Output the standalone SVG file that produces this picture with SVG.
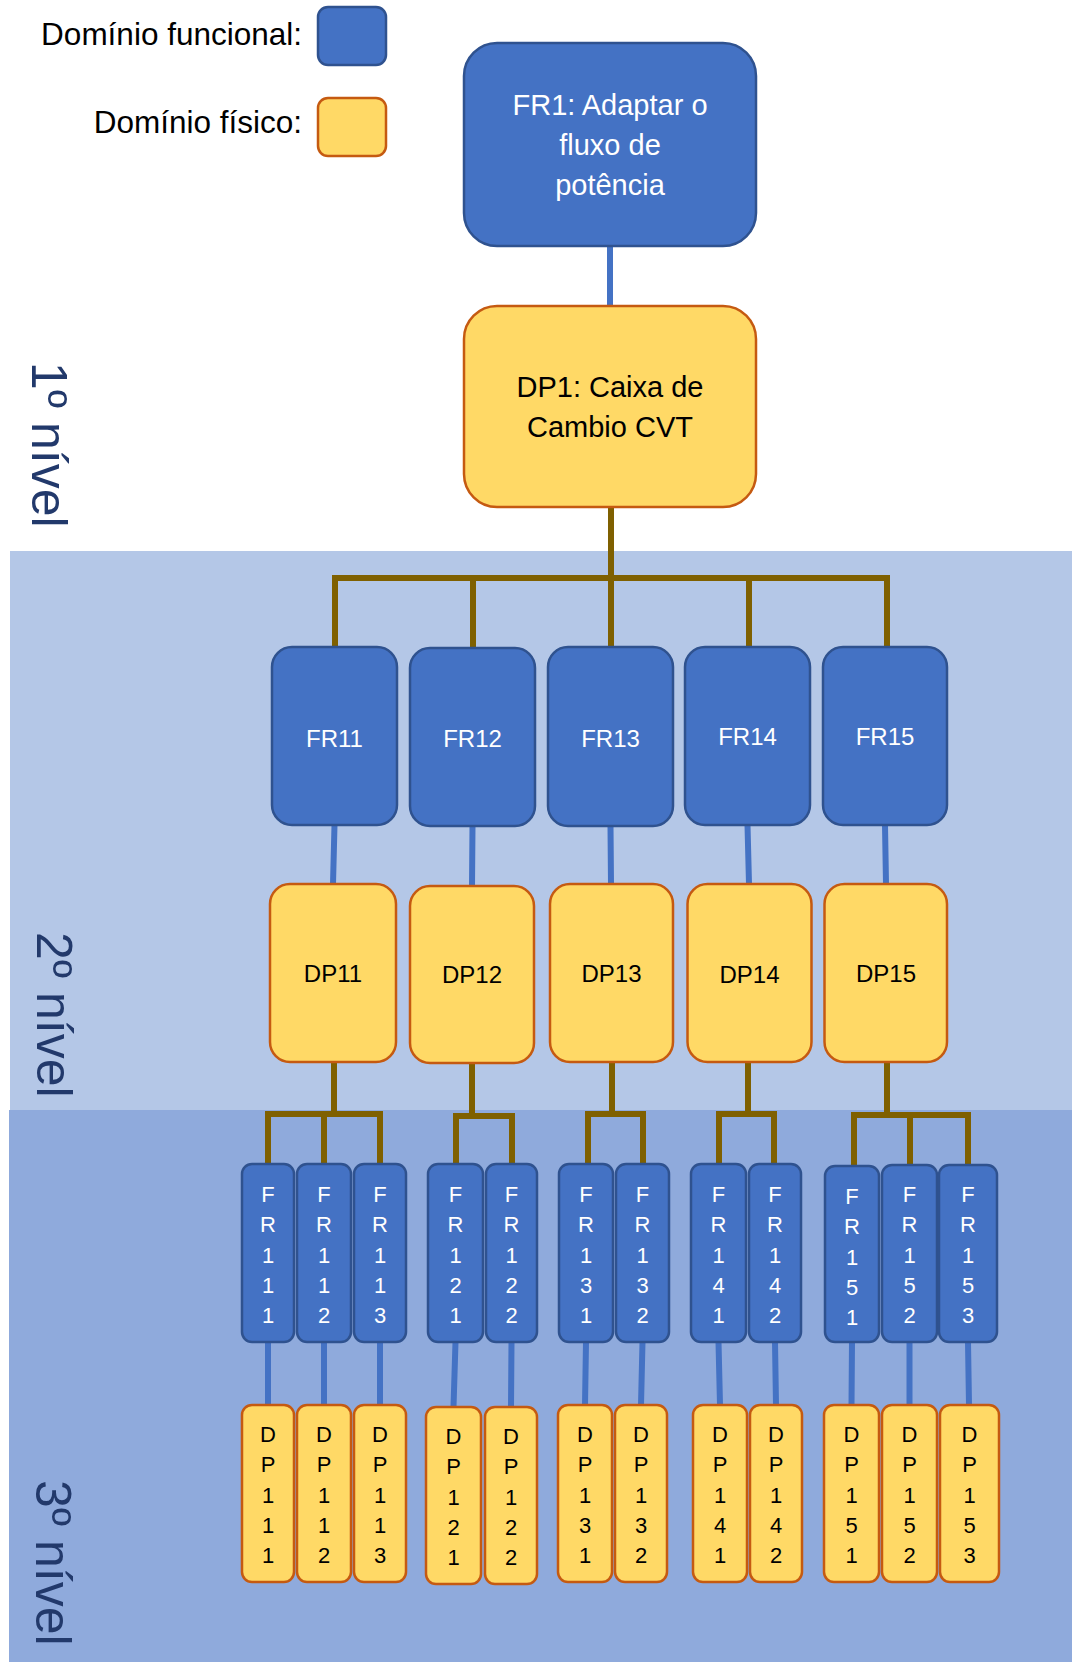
<svg xmlns="http://www.w3.org/2000/svg" width="1072" height="1662" viewBox="0 0 1072 1662">
<style>
.fr{fill:#4472C4;stroke:#2F528F;stroke-width:2.5}
.dp{fill:#FFD966;stroke:#C55A11;stroke-width:2.5}
.t{font-family:"Liberation Sans",Arial,sans-serif;text-anchor:middle}
.w{fill:#FFFFFF}
.k{fill:#000000}
.big{font-size:29px}
.mid{font-size:24px}
.sm{font-size:22px}
.lg{font-family:"Liberation Sans",Arial,sans-serif;font-size:31.5px;fill:#000;text-anchor:end}
.lvl{font-family:"Liberation Sans",Arial,sans-serif;font-size:50px;fill:#22396B}
.br{stroke:#7F6000;stroke-width:6;fill:none;stroke-linejoin:miter}
.bl{stroke:#4472C4;stroke-width:6;fill:none}
</style>
<rect x="0" y="0" width="1072" height="1662" fill="#FFFFFF"/>
<g id="bands">
<rect x="10" y="551" width="1062" height="560" fill="#B4C7E7"/>
<rect x="9" y="1110" width="1063" height="552" fill="#8FAADC"/>
</g>
<g id="levels">
<text class="lvl" transform="translate(32,362) rotate(90)">1º nível</text>
<text class="lvl" transform="translate(37,932) rotate(90)">2º nível</text>
<text class="lvl" transform="translate(36,1480) rotate(90)">3º nível</text>
</g>
<g id="legend">
<text class="lg" x="302" y="45">Domínio funcional:</text>
<rect class="fr" x="318" y="7" width="68" height="58" rx="10"/>
<text class="lg" x="302" y="133">Domínio físico:</text>
<rect class="dp" x="318" y="98" width="68" height="58" rx="10"/>
</g>
<g id="connectors">
<path class="bl" d="M610,246 V306"/>
<path class="br" d="M611,507 V578"/>
<path class="br" d="M335,648 V578 H887 V648"/>
<path class="br" d="M473,578 V648 M611,578 V648 M749,578 V648"/>
<path class="bl" d="M334.5,825 L333,884 M472.5,826 L472,886 M610.5,826 L611,884 M747.5,825 L749,884 M885,825 L886,884"/>
<path class="br" d="M334,1062 V1114 M268,1165 V1114 H380 V1165 M324,1114 V1165"/>
<path class="br" d="M472,1063 V1116 M456,1165 V1116 H512 V1165"/>
<path class="br" d="M612,1062 V1114 M588,1165 V1114 H643 V1165"/>
<path class="br" d="M748,1062 V1114 M719,1165 V1114 H774 V1165"/>
<path class="br" d="M887,1062 V1115 M854,1166 V1115 H968 V1165 M910,1115 V1165"/>
<path class="bl" d="M268,1342 V1405 M324,1342 V1405 M380,1342 V1405 M455.5,1342 L453.5,1407 M511.5,1342 L511,1407 M586,1342 L585,1405 M642.5,1342 L641,1405 M718.5,1342 L720,1405 M775,1342 L776,1405 M852,1342 L851.5,1405 M909.5,1342 V1405 M968,1342 L969,1405"/>
</g>
<g id="FR1">
<rect class="fr" x="464" y="43" width="292" height="203" rx="33"/>
<text class="t w big" x="610" y="115">FR1: Adaptar o</text>
<text class="t w big" x="610" y="155">fluxo de</text>
<text class="t w big" x="610" y="195">potência</text>
</g>
<g id="DP1">
<rect class="dp" x="464" y="306" width="292" height="201" rx="33"/>
<text class="t k big" x="610" y="397">DP1: Caixa de</text>
<text class="t k big" x="610" y="437">Cambio CVT</text>
</g>
<g id="FR11"><rect class="fr" x="272" y="647" width="125" height="178" rx="20"/><text class="t w mid" x="334.5" y="747">FR11</text></g>
<g id="FR12"><rect class="fr" x="410" y="648" width="125" height="178" rx="20"/><text class="t w mid" x="472.5" y="747">FR12</text></g>
<g id="FR13"><rect class="fr" x="548" y="647" width="125" height="179" rx="20"/><text class="t w mid" x="610.5" y="747">FR13</text></g>
<g id="FR14"><rect class="fr" x="685" y="647" width="125" height="178" rx="20"/><text class="t w mid" x="747.5" y="745">FR14</text></g>
<g id="FR15"><rect class="fr" x="823" y="647" width="124" height="178" rx="20"/><text class="t w mid" x="885" y="745">FR15</text></g>
<g id="DP11"><rect class="dp" x="270" y="884" width="126" height="178" rx="20"/><text class="t k mid" x="333" y="982">DP11</text></g>
<g id="DP12"><rect class="dp" x="410" y="886" width="124" height="177" rx="20"/><text class="t k mid" x="472" y="983">DP12</text></g>
<g id="DP13"><rect class="dp" x="550" y="884" width="123" height="178" rx="20"/><text class="t k mid" x="611.5" y="982">DP13</text></g>
<g id="DP14"><rect class="dp" x="687.5" y="884" width="124" height="178" rx="20"/><text class="t k mid" x="749.5" y="983">DP14</text></g>
<g id="DP15"><rect class="dp" x="824.5" y="884" width="122.5" height="178" rx="20"/><text class="t k mid" x="886" y="982">DP15</text></g>
<g id="FR111"><rect class="fr" x="242" y="1164" width="52" height="178" rx="10"/><text class="t w sm" x="268" y="1202"><tspan x="268">F</tspan><tspan x="268" dy="30.3">R</tspan><tspan x="268" dy="30.3">1</tspan><tspan x="268" dy="30.3">1</tspan><tspan x="268" dy="30.3">1</tspan></text></g>
<g id="FR112"><rect class="fr" x="297" y="1164" width="54" height="178" rx="10"/><text class="t w sm" x="324" y="1202"><tspan x="324">F</tspan><tspan x="324" dy="30.3">R</tspan><tspan x="324" dy="30.3">1</tspan><tspan x="324" dy="30.3">1</tspan><tspan x="324" dy="30.3">2</tspan></text></g>
<g id="FR113"><rect class="fr" x="354" y="1164" width="52" height="178" rx="10"/><text class="t w sm" x="380" y="1202"><tspan x="380">F</tspan><tspan x="380" dy="30.3">R</tspan><tspan x="380" dy="30.3">1</tspan><tspan x="380" dy="30.3">1</tspan><tspan x="380" dy="30.3">3</tspan></text></g>
<g id="FR121"><rect class="fr" x="428" y="1164" width="55" height="178" rx="10"/><text class="t w sm" x="455.5" y="1202"><tspan x="455.5">F</tspan><tspan x="455.5" dy="30.3">R</tspan><tspan x="455.5" dy="30.3">1</tspan><tspan x="455.5" dy="30.3">2</tspan><tspan x="455.5" dy="30.3">1</tspan></text></g>
<g id="FR122"><rect class="fr" x="486" y="1164" width="51" height="178" rx="10"/><text class="t w sm" x="511.5" y="1202"><tspan x="511.5">F</tspan><tspan x="511.5" dy="30.3">R</tspan><tspan x="511.5" dy="30.3">1</tspan><tspan x="511.5" dy="30.3">2</tspan><tspan x="511.5" dy="30.3">2</tspan></text></g>
<g id="FR131"><rect class="fr" x="559" y="1164" width="54" height="178" rx="10"/><text class="t w sm" x="586" y="1202"><tspan x="586">F</tspan><tspan x="586" dy="30.3">R</tspan><tspan x="586" dy="30.3">1</tspan><tspan x="586" dy="30.3">3</tspan><tspan x="586" dy="30.3">1</tspan></text></g>
<g id="FR132"><rect class="fr" x="616" y="1164" width="53" height="178" rx="10"/><text class="t w sm" x="642.5" y="1202"><tspan x="642.5">F</tspan><tspan x="642.5" dy="30.3">R</tspan><tspan x="642.5" dy="30.3">1</tspan><tspan x="642.5" dy="30.3">3</tspan><tspan x="642.5" dy="30.3">2</tspan></text></g>
<g id="FR141"><rect class="fr" x="691" y="1164" width="55" height="178" rx="10"/><text class="t w sm" x="718.5" y="1202"><tspan x="718.5">F</tspan><tspan x="718.5" dy="30.3">R</tspan><tspan x="718.5" dy="30.3">1</tspan><tspan x="718.5" dy="30.3">4</tspan><tspan x="718.5" dy="30.3">1</tspan></text></g>
<g id="FR142"><rect class="fr" x="749" y="1164" width="52" height="178" rx="10"/><text class="t w sm" x="775" y="1202"><tspan x="775">F</tspan><tspan x="775" dy="30.3">R</tspan><tspan x="775" dy="30.3">1</tspan><tspan x="775" dy="30.3">4</tspan><tspan x="775" dy="30.3">2</tspan></text></g>
<g id="FR151"><rect class="fr" x="825" y="1166" width="54" height="176" rx="10"/><text class="t w sm" x="852" y="1204"><tspan x="852">F</tspan><tspan x="852" dy="30.3">R</tspan><tspan x="852" dy="30.3">1</tspan><tspan x="852" dy="30.3">5</tspan><tspan x="852" dy="30.3">1</tspan></text></g>
<g id="FR152"><rect class="fr" x="882" y="1165" width="55" height="177" rx="10"/><text class="t w sm" x="909.5" y="1202"><tspan x="909.5">F</tspan><tspan x="909.5" dy="30.3">R</tspan><tspan x="909.5" dy="30.3">1</tspan><tspan x="909.5" dy="30.3">5</tspan><tspan x="909.5" dy="30.3">2</tspan></text></g>
<g id="FR153"><rect class="fr" x="939" y="1165" width="58" height="177" rx="10"/><text class="t w sm" x="968" y="1202"><tspan x="968">F</tspan><tspan x="968" dy="30.3">R</tspan><tspan x="968" dy="30.3">1</tspan><tspan x="968" dy="30.3">5</tspan><tspan x="968" dy="30.3">3</tspan></text></g>
<g id="DP111"><rect class="dp" x="242" y="1405" width="52" height="177" rx="10"/><text class="t k sm" x="268" y="1442"><tspan x="268">D</tspan><tspan x="268" dy="30.3">P</tspan><tspan x="268" dy="30.3">1</tspan><tspan x="268" dy="30.3">1</tspan><tspan x="268" dy="30.3">1</tspan></text></g>
<g id="DP112"><rect class="dp" x="297" y="1405" width="54" height="177" rx="10"/><text class="t k sm" x="324" y="1442"><tspan x="324">D</tspan><tspan x="324" dy="30.3">P</tspan><tspan x="324" dy="30.3">1</tspan><tspan x="324" dy="30.3">1</tspan><tspan x="324" dy="30.3">2</tspan></text></g>
<g id="DP113"><rect class="dp" x="354" y="1405" width="52" height="177" rx="10"/><text class="t k sm" x="380" y="1442"><tspan x="380">D</tspan><tspan x="380" dy="30.3">P</tspan><tspan x="380" dy="30.3">1</tspan><tspan x="380" dy="30.3">1</tspan><tspan x="380" dy="30.3">3</tspan></text></g>
<g id="DP121"><rect class="dp" x="426" y="1407" width="55" height="177" rx="10"/><text class="t k sm" x="453.5" y="1444"><tspan x="453.5">D</tspan><tspan x="453.5" dy="30.3">P</tspan><tspan x="453.5" dy="30.3">1</tspan><tspan x="453.5" dy="30.3">2</tspan><tspan x="453.5" dy="30.3">1</tspan></text></g>
<g id="DP122"><rect class="dp" x="485" y="1407" width="52" height="177" rx="10"/><text class="t k sm" x="511" y="1444"><tspan x="511">D</tspan><tspan x="511" dy="30.3">P</tspan><tspan x="511" dy="30.3">1</tspan><tspan x="511" dy="30.3">2</tspan><tspan x="511" dy="30.3">2</tspan></text></g>
<g id="DP131"><rect class="dp" x="558" y="1405" width="54" height="177" rx="10"/><text class="t k sm" x="585" y="1442"><tspan x="585">D</tspan><tspan x="585" dy="30.3">P</tspan><tspan x="585" dy="30.3">1</tspan><tspan x="585" dy="30.3">3</tspan><tspan x="585" dy="30.3">1</tspan></text></g>
<g id="DP132"><rect class="dp" x="615" y="1405" width="52" height="177" rx="10"/><text class="t k sm" x="641" y="1442"><tspan x="641">D</tspan><tspan x="641" dy="30.3">P</tspan><tspan x="641" dy="30.3">1</tspan><tspan x="641" dy="30.3">3</tspan><tspan x="641" dy="30.3">2</tspan></text></g>
<g id="DP141"><rect class="dp" x="693" y="1405" width="54" height="177" rx="10"/><text class="t k sm" x="720" y="1442"><tspan x="720">D</tspan><tspan x="720" dy="30.3">P</tspan><tspan x="720" dy="30.3">1</tspan><tspan x="720" dy="30.3">4</tspan><tspan x="720" dy="30.3">1</tspan></text></g>
<g id="DP142"><rect class="dp" x="750" y="1405" width="52" height="177" rx="10"/><text class="t k sm" x="776" y="1442"><tspan x="776">D</tspan><tspan x="776" dy="30.3">P</tspan><tspan x="776" dy="30.3">1</tspan><tspan x="776" dy="30.3">4</tspan><tspan x="776" dy="30.3">2</tspan></text></g>
<g id="DP151"><rect class="dp" x="824" y="1405" width="55" height="177" rx="10"/><text class="t k sm" x="851.5" y="1442"><tspan x="851.5">D</tspan><tspan x="851.5" dy="30.3">P</tspan><tspan x="851.5" dy="30.3">1</tspan><tspan x="851.5" dy="30.3">5</tspan><tspan x="851.5" dy="30.3">1</tspan></text></g>
<g id="DP152"><rect class="dp" x="882" y="1405" width="55" height="177" rx="10"/><text class="t k sm" x="909.5" y="1442"><tspan x="909.5">D</tspan><tspan x="909.5" dy="30.3">P</tspan><tspan x="909.5" dy="30.3">1</tspan><tspan x="909.5" dy="30.3">5</tspan><tspan x="909.5" dy="30.3">2</tspan></text></g>
<g id="DP153"><rect class="dp" x="940" y="1405" width="59" height="177" rx="10"/><text class="t k sm" x="969.5" y="1442"><tspan x="969.5">D</tspan><tspan x="969.5" dy="30.3">P</tspan><tspan x="969.5" dy="30.3">1</tspan><tspan x="969.5" dy="30.3">5</tspan><tspan x="969.5" dy="30.3">3</tspan></text></g>
</svg>
